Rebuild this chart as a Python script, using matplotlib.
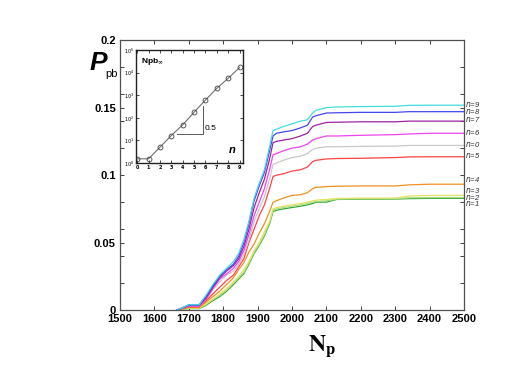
import numpy as np
import matplotlib
matplotlib.use('Agg')
import matplotlib.pyplot as plt
from matplotlib.ticker import MultipleLocator

# main curves: Pb vs Np for n = 0..9
Np = [1665, 1675, 1700, 1730, 1750, 1770, 1790, 1810, 1830, 1845, 1860, 1875, 1890, 1905,
      1920, 1935, 1945, 1955, 1975, 2000, 2025, 2045, 2060, 2070, 2100, 2130, 2200, 2300,
      2340, 2400, 2500]

P_n9 = [0, .001, .004, .004, .011, .019, .026, .031, .036, .042, .052, .066, .083, .094, .104, .121,
        .133, .134, .136, .138, .140, .141, .146, .148, .150, .1505, .1508, .151, .1517, .1518, .1518]
P_n8 = [0, .001, .004, .004, .010, .018, .025, .030, .034, .040, .050, .064, .081, .092, .102, .118,
        .129, .131, .132, .133, .135, .137, .143, .144, .146, .1462, .1465, .1465, .147, .147, .147]
P_n7 = [0, .001, .0035, .0035, .009, .017, .024, .029, .033, .038, .047, .060, .076, .087, .097, .112,
        .124, .125, .126, .127, .129, .131, .136, .137, .139, .1392, .1395, .1395, .140, .140, .140]
P_n6 = [0, .001, .003, .003, .008, .016, .023, .027, .031, .036, .044, .056, .070, .080, .090, .104,
        .115, .116, .118, .120, .121, .123, .126, .127, .129, .129, .1295, .130, .1305, .131, .131]
P_n0 = [0, .001, .003, .003, .008, .015, .021, .026, .029, .034, .041, .052, .066, .075, .084, .097,
        .108, .109, .111, .113, .114, .116, .119, .120, .121, .121, .1213, .1215, .122, .122, .122]
P_n5 = [0, .0008, .0025, .0025, .007, .012, .017, .022, .026, .032, .038, .050, .060, .070, .078, .090,
        .099, .100, .101, .103, .104, .106, .110, .111, .112, .1123, .1125, .113, .1135, .1136, .1136]
P_n4 = [0, .0005, .002, .002, .006, .010, .014, .019, .024, .030, .035, .043, .049, .057, .064, .073,
        .080, .081, .083, .085, .0855, .087, .090, .091, .0915, .0918, .092, .092, .0928, .0933, .0933]
P_n3 = [0, .0005, .0015, .0015, .005, .008, .012, .016, .021, .025, .030, .036, .044, .050, .058, .066,
        .075, .076, .077, .078, .079, .080, .081, .0815, .082, .0827, .083, .083, .0845, .085, .085]
P_n2 = [0, .0005, .0015, .0015, .004, .008, .011, .015, .020, .024, .028, .035, .043, .049, .056, .065,
        .074, .075, .076, .077, .078, .079, .080, .0805, .081, .0822, .0825, .0826, .0832, .0834, .0834]
P_n1 = [0, .0004, .0012, .0012, .0035, .007, .010, .014, .019, .023, .027, .034, .042, .048, .055, .064,
        .073, .074, .075, .076, .077, .078, .079, .080, .080, .082, .0822, .0823, .0826, .0828, .0828]

labels = ['n=9', 'n=8', 'n=7', 'n=6', 'n=0', 'n=5', 'n=4', 'n=3', 'n=2', 'n=1']
label_y = [0.1526, 0.1469, 0.1415, 0.1313, 0.1230, 0.1148, 0.0970, 0.0888, 0.0838, 0.0788]

# inset: Npb_inf vs n (log)
n_vals = [0, 1, 2, 3, 4, 5, 6, 7, 8, 9]
npb_log10 = [0.19, 0.19, 0.70, 1.22, 1.69, 2.25, 2.79, 3.31, 3.75, 4.23]

curves = [P_n9, P_n8, P_n7, P_n6, P_n0, P_n5, P_n4, P_n3, P_n2, P_n1]
colors = ['#40dede', '#4646f2', '#a020a0', '#ee44ee', '#c8c8c8', '#ff4242',
          '#f09020', '#e2e266', '#a8dc80', '#34a834']

fig = plt.figure(figsize=(5.26, 3.82), dpi=100)
ax = fig.add_axes([0.228, 0.188, 0.654, 0.707])

# draw bottom curves first so upper ones sit on top
for y, c in zip(curves[::-1], colors[::-1]):
    ax.plot(Np, y, color=c, lw=0.9)

ax.set_xlim(1500, 2500)
ax.set_ylim(0, 0.2)
ax.xaxis.set_major_locator(MultipleLocator(100))
ax.yaxis.set_minor_locator(MultipleLocator(0.02))
ax.set_yticks([0, 0.05, 0.1, 0.15, 0.2])
ax.set_yticklabels(['0', '0.05', '0.1', '0.15', '0.2'])
ax.tick_params(which='both', direction='in', top=True, right=True, length=3,
               width=0.7, color='#404040')
ax.tick_params(axis='both', labelsize=8, pad=3)
for lab in ax.get_xticklabels() + ax.get_yticklabels():
    lab.set_fontweight('bold')
    lab.set_family('Liberation Sans')
for sp in ax.spines.values():
    sp.set_color('#505050')
    sp.set_linewidth(0.9)

for lab, ly in zip(labels, label_y):
    ax.text(2502, ly, lab.replace('n', r'$\mathit{n}$'), fontsize=5.5, color='#303030',
            va='center', ha='left', family='Liberation Sans', style='italic')

fig.text(0.612, 0.095, r'$\mathbf{N}_{\mathbf{p}}$', fontsize=17,
         ha='center', va='center', family='Liberation Serif',
         math_fontfamily='stix')
fig.text(0.171, 0.835, 'P', fontsize=19, fontweight='bold', style='italic',
         family='Liberation Sans', ha='left', va='center')
fig.text(0.2, 0.805, 'pb', fontsize=8, family='Liberation Sans',
         ha='left', va='center')

# inset
ins = fig.add_axes([0.2586, 0.573, 0.2034, 0.296])
ins.plot(n_vals, [10 ** v for v in npb_log10], color='#707070', lw=0.8,
         marker='o', ms=3.5, mfc='none', mec='#404040', mew=0.6)
ins.set_yscale('log')
ins.set_ylim(1, 1e5)
ins.set_xlim(-0.1, 9.3)
ins.set_xticks(n_vals)
ins.tick_params(which='both', direction='in', length=2, width=0.5,
                top=True, right=True, labelsize=3.5, pad=1.5)
ins.tick_params(which='minor', length=0)
for lab in ins.get_xticklabels():
    lab.set_fontweight('bold')
for sp in ins.spines.values():
    sp.set_color('#202020')
    sp.set_linewidth(1.0)
# slope triangle
ins.plot([3.48, 5.76, 5.76], [10 ** 1.29, 10 ** 1.29, 10 ** 2.51], color='#404040', lw=0.6)
ins.text(5.9, 10 ** 1.45, '0.5', fontsize=6, family='Liberation Sans')
ins.text(0.05, 0.95, r'Npb$_{\infty}$', transform=ins.transAxes, fontsize=6,
         fontweight='bold', va='top', ha='left', family='Liberation Sans')
ins.text(0.93, 0.07, 'n', transform=ins.transAxes, fontsize=8, fontweight='bold',
         style='italic', ha='right', va='bottom', family='Liberation Sans')

fig.savefig('out.png', dpi=100)
